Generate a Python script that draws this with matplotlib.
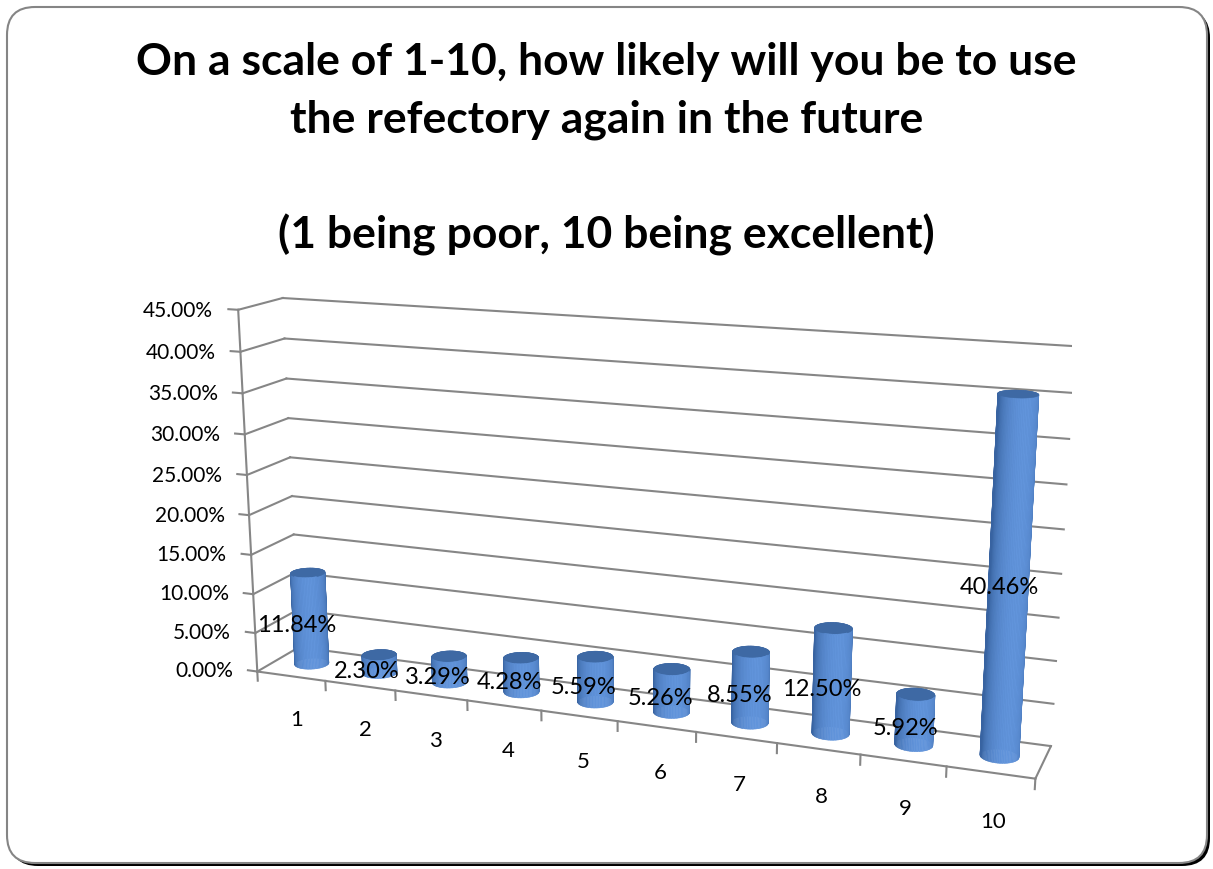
import numpy as np
import matplotlib
matplotlib.use("Agg")
import matplotlib.pyplot as plt
from matplotlib.patches import FancyBboxPatch
from matplotlib.transforms import IdentityTransform
from matplotlib.colors import to_rgb
from mpl_toolkits.mplot3d.art3d import Poly3DCollection

plt.rcParams['font.family'] = ['Lato', 'DejaVu Sans']

# data
categories = ['1', '2', '3', '4', '5', '6', '7', '8', '9', '10']
values = [0.1184, 0.0230, 0.0329, 0.0428, 0.0559, 0.0526, 0.0855, 0.1250, 0.0592, 0.4046]
data_labels = ['11.84%', '2.30%', '3.29%', '4.28%', '5.59%', '5.26%', '8.55%', '12.50%', '5.92%', '40.46%']
value_ticks = [0.0, 0.05, 0.10, 0.15, 0.20, 0.25, 0.30, 0.35, 0.40, 0.45]
value_tick_labels = ['0.00%', '5.00%', '10.00%', '15.00%', '20.00%', '25.00%',
                     '30.00%', '35.00%', '40.00%', '45.00%']
title_lines = ['On a scale of 1-10, how likely will you be to use',
               'the refectory again in the future',
               '',
               '(1 being poor, 10 being excellent)']

fig = plt.figure(figsize=(12.13, 8.7), dpi=100)
fig.patch.set_facecolor('white')

# rounded frame with a small drop shadow (pixel coords)
shadow = FancyBboxPatch((10, 3), 1200, 856, boxstyle='round,pad=0,rounding_size=28',
                        transform=IdentityTransform(), facecolor='black', edgecolor='none', zorder=-3)
frame = FancyBboxPatch((7, 6), 1200, 856, boxstyle='round,pad=0,rounding_size=28',
                       transform=IdentityTransform(), facecolor='white', edgecolor='#858585',
                       linewidth=1.5, zorder=-2)
fig.patches.extend([shadow, frame])

# title
ybase = [75, 132, 190, 248]
for line, yb in zip(title_lines, ybase):
    if line:
        fig.text(0.5, 1 - yb / 870, line, ha='center', va='baseline',
                 fontsize=32, fontweight='bold', color='black')

# 3d axes is squared by mplot3d, so give it a big square area (~900 px)
ax = fig.add_axes([0.1406, -0.1328, 0.7428, 1.0356], projection='3d')
ax.set_facecolor('none')
depth = 1.05
ax.set_box_aspect((10, depth, 4.7))
ax.set_xlim(0.5, 10.5)
ax.set_ylim(0, depth)
ax.set_zlim(0, 0.45)
ax.view_init(elev=15, azim=-69)
ax.set_proj_type('persp', focal_length=0.4)
ax.set_xticks([])
ax.set_yticks([])
ax.set_zticks([])
for a in (ax.xaxis, ax.yaxis, ax.zaxis):
    a.set_visible(False)
ax.set_axis_off()

grid_kw = dict(color='#868686', linewidth=1.5, zorder=1)
x0, x1 = 0.5, len(categories) + 0.5

# gridlines on back wall and left wall
for v in value_ticks:
    ax.plot([x0, x1], [depth, depth], [v, v], **grid_kw)
    ax.plot([x0, x0], [0, depth], [v, v], **grid_kw)
# front-left value axis and floor edges
ax.plot([x0, x0], [0, 0], [0, value_ticks[-1]], **grid_kw)
ax.plot([x0, x1], [0, 0], [0, 0], **grid_kw)
ax.plot([x1, x1], [0, depth], [0, 0], **grid_kw)
# value ticks and labels
for v, lab in zip(value_ticks, value_tick_labels):
    ax.plot([x0, x0 - 0.14], [0, 0], [v, v], **grid_kw)
    ax.text(x0 - 0.36, 0, v, lab, ha='right', va='center_baseline', fontsize=15, zorder=100)
# category ticks and labels
for k in range(len(categories) + 1):
    ax.plot([x0 + k, x0 + k], [0, 0], [0, -0.012], **grid_kw)
for i, c in enumerate(categories):
    ax.text(i + 1.05, 0, -0.053, c, ha='center', va='center_baseline', fontsize=16, zorder=100)

# cylinders
r = 0.22
yc = depth / 2
theta = np.linspace(0, 2 * np.pi, 73)
la = np.deg2rad(-55)
dark = np.array([0.22, 0.39, 0.63])
bright = np.array([0.38, 0.58, 0.86])
top_color = to_rgb('#3e69a4')
for i, v in enumerate(values):
    xc = i + 1
    cx = xc + r * np.cos(theta)
    cy = yc + r * np.sin(theta)
    polys, cols = [], []
    for j in range(len(theta) - 1):
        polys.append([(cx[j], cy[j], 0), (cx[j + 1], cy[j + 1], 0),
                      (cx[j + 1], cy[j + 1], v), (cx[j], cy[j], v)])
        tm = 0.5 * (theta[j] + theta[j + 1])
        b = max(0.0, np.cos(tm - la))
        cols.append(tuple(dark + (bright - dark) * b ** 0.8))
    polys.append(list(zip(cx, cy, np.full_like(cx, v))))
    cols.append(top_color)
    pc = Poly3DCollection(polys, facecolors=cols, edgecolors=cols, linewidths=0.4)
    ax.add_collection3d(pc)

# data labels
for i, (v, lab) in enumerate(zip(values, data_labels)):
    ax.text(i + 1 - 0.06, yc - r, v / 2, lab, ha='center', va='center_baseline', fontsize=17, zorder=100)

fig.savefig('out.png', dpi=100)
